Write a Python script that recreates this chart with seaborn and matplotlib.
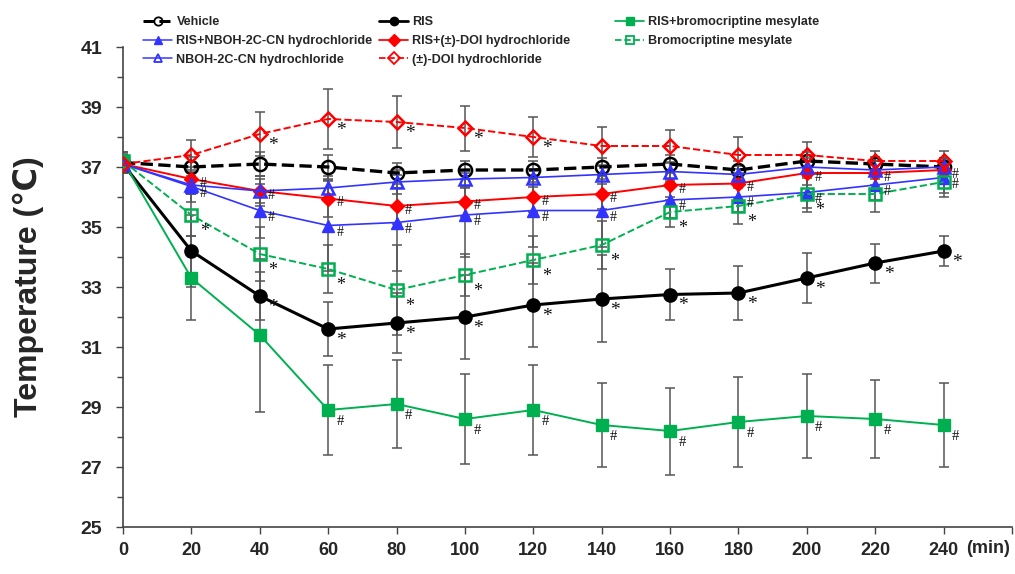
import matplotlib
matplotlib.use("Agg")
import matplotlib.pyplot as plt
from matplotlib.lines import Line2D
import seaborn as sns
import numpy as np
import pandas as pd

sns.set_style("ticks")
plt.rcParams['font.family'] = ['Liberation Sans', 'DejaVu Sans']

# ---------------- data ----------------
time_min = [0, 20, 40, 60, 80, 100, 120, 140, 160, 180, 200, 220, 240]

vehicle      = [37.15, 37.0, 37.1, 37.0, 36.8, 36.9, 36.9, 37.0, 37.1, 36.9, 37.2, 37.1, 37.0]
ris          = [37.1, 34.2, 32.7, 31.6, 31.8, 32.0, 32.4, 32.6, 32.75, 32.8, 33.3, 33.8, 34.2]
ris_bromo    = [37.2, 33.3, 31.4, 28.9, 29.1, 28.6, 28.9, 28.4, 28.2, 28.5, 28.7, 28.6, 28.4]
ris_nboh     = [37.1, 36.35, 35.55, 35.05, 35.15, 35.4, 35.55, 35.55, 35.9, 36.0, 36.15, 36.4, 36.65]
ris_doi      = [37.1, 36.6, 36.2, 35.95, 35.7, 35.85, 36.0, 36.1, 36.4, 36.45, 36.8, 36.8, 36.9]
bromo        = [37.2, 35.4, 34.1, 33.6, 32.9, 33.4, 33.9, 34.4, 35.5, 35.7, 36.1, 36.1, 36.5]
nboh         = [37.1, 36.4, 36.2, 36.3, 36.5, 36.6, 36.65, 36.75, 36.85, 36.75, 37.0, 36.9, 37.0]
doi          = [37.1, 37.4, 38.1, 38.6, 38.5, 38.3, 38.0, 37.7, 37.7, 37.4, 37.4, 37.2, 37.2]

vehicle_err   = [0.3, 0.35, 0.4, 0.4, 0.35, 0.3, 0.3, 0.3, 0.3, 0.3, 0.3, 0.25, 0.25]
ris_err       = [0.3, 1.2, 0.8, 0.9, 1.0, 1.4, 1.4, 1.45, 0.85, 0.9, 0.83, 0.65, 0.5]
ris_bromo_err = [0.3, 1.4, 2.55, 1.5, 1.47, 1.5, 1.5, 1.4, 1.45, 1.5, 1.4, 1.3, 1.4]
ris_nboh_err  = [0.3, 0.5, 0.9, 1.5, 1.6, 1.4, 1.2, 1.2, 0.6, 0.5, 0.5, 0.5, 0.5]
ris_doi_err   = [0.3, 0.4, 0.5, 0.6, 0.6, 0.5, 0.5, 0.5, 0.5, 0.5, 0.4, 0.4, 0.4]
bromo_err     = [0.3, 0.7, 0.9, 0.8, 1.5, 0.7, 0.8, 0.8, 0.5, 0.6, 0.6, 0.6, 0.5]
nboh_err      = [0.3, 0.3, 0.4, 0.4, 0.4, 0.3, 0.3, 0.3, 0.3, 0.3, 0.3, 0.3, 0.3]
doi_err       = [0.3, 0.5, 0.73, 1.0, 0.87, 0.75, 0.67, 0.63, 0.55, 0.6, 0.42, 0.32, 0.34]

# significance marks: time points with "*" or "#"
ris_star       = [40, 60, 80, 100, 120, 140, 160, 180, 200, 220, 240]
ris_bromo_hash = [60, 80, 100, 120, 140, 160, 180, 200, 220, 240]
ris_nboh_hash  = [20, 40, 60, 80, 100, 120, 140, 160, 180, 200, 220, 240]
ris_doi_hash   = [20, 40, 60, 80, 100, 120, 140, 160, 180, 200, 220, 240]
bromo_star     = [20, 40, 60, 80, 100, 120, 140, 160, 180, 200]
doi_star       = [40, 60, 80, 100, 120]

x_ticks = [0, 20, 40, 60, 80, 100, 120, 140, 160, 180, 200, 220, 240, 260]
x_ticklabels = ['0', '20', '40', '60', '80', '100', '120', '140', '160', '180', '200', '220', '240', '']
y_ticks = [25, 27, 29, 31, 33, 35, 37, 39, 41]

GREEN = '#00B050'
BLUE = '#3333FF'
RED = '#FF0000'
BLACK = '#000000'

series = [
    # label, values, err, color, marker, linestyle, filled, lw
    ('Vehicle', vehicle, vehicle_err, BLACK, 'o', '--', False, 2.4),
    ('RIS', ris, ris_err, BLACK, 'o', '-', True, 2.2),
    ('RIS+bromocriptine mesylate', ris_bromo, ris_bromo_err, GREEN, 's', '-', True, 1.4),
    ('RIS+NBOH-2C-CN hydrochloride', ris_nboh, ris_nboh_err, BLUE, '^', '-', True, 1.2),
    ('RIS+(±)-DOI hydrochloride', ris_doi, ris_doi_err, RED, 'D', '-', True, 1.4),
    ('Bromocriptine mesylate', bromo, bromo_err, GREEN, 's', '--', False, 1.4),
    ('NBOH-2C-CN hydrochloride', nboh, nboh_err, BLUE, '^', '-', False, 1.2),
    ('(±)-DOI hydrochloride', doi, doi_err, RED, 'D', '--', False, 1.4),
]

fig = plt.figure(figsize=(10.15, 5.74), dpi=100)
ax = fig.add_axes([123/1015, 1 - 527/574, 889/1015, 480/574])

# error bars (behind)
for label, vals, err, color, marker, ls, filled, lw in series:
    ax.errorbar(time_min, vals, yerr=err, fmt='none', ecolor='#555555',
                elinewidth=1.1, capsize=3.5, capthick=1.1, zorder=1)

handles = {}
for i, (label, vals, err, color, marker, ls, filled, lw) in enumerate(series):
    df = pd.DataFrame({'time': time_min, 'temp': vals})
    ms = 8.5 if marker != 'D' else 7.5
    if marker == 'o':
        ms = 9.5
    sns.lineplot(data=df, x='time', y='temp', ax=ax, color=color, linestyle=ls,
                 linewidth=lw, marker=marker, markersize=ms,
                 markerfacecolor=(color if filled else 'none'),
                 markeredgecolor=color, markeredgewidth=(1.0 if filled else 1.8),
                 errorbar=None, zorder=3 + i, legend=False)
    handles[label] = Line2D([], [], color=color, linestyle=ls, linewidth=lw * 0.9,
                            marker=marker, markersize=6,
                            markerfacecolor=(color if filled else 'none'),
                            markeredgecolor=color, markeredgewidth=(1.0 if filled else 1.3))

def annotate(times, vals, sym, dy=-8, size=None):
    for t in times:
        v = vals[time_min.index(t)]
        fs = size if size else (14 if sym == '*' else 10.5)
        ax.annotate(sym, (t, v), xytext=(6, dy), textcoords='offset points',
                    ha='left', va='center', fontsize=fs,
                    family='Liberation Serif', color='#111111', zorder=20)

annotate(ris_star, ris, '*')
annotate(ris_bromo_hash, ris_bromo, '#')
annotate(ris_nboh_hash, ris_nboh, '#', dy=-5, size=10)
annotate(ris_doi_hash, ris_doi, '#', dy=-3, size=10)
annotate(bromo_star, bromo, '*', dy=-12, size=13)
annotate(doi_star, doi, '*')

ax.set_xlim(0, 260)
ax.set_ylim(25, 41)
ax.set_xticks(x_ticks)
ax.set_xticklabels(x_ticklabels, fontsize=13, fontweight='bold')
ax.set_yticks(y_ticks)
ax.set_yticklabels([str(v) for v in y_ticks], fontsize=14, fontweight='bold')
ax.set_yticks(np.arange(25, 42, 1), minor=True)
ax.tick_params(axis='both', which='major', direction='out', length=5, width=1, color='#444444', pad=6)
ax.tick_params(axis='y', which='minor', direction='out', length=4, width=1, color='#444444')
ax.tick_params(axis='y', which='major', pad=10)
for s in ['top', 'right']:
    ax.spines[s].set_visible(False)
for s in ['left', 'bottom']:
    ax.spines[s].set_color('#444444')
    ax.spines[s].set_linewidth(1.2)

ax.set_xlabel('')
ax.set_ylabel('Temperature (℃)', fontsize=23, fontweight='bold',
              family=['Liberation Sans', 'DejaVu Sans'])
ax.yaxis.set_label_coords(-0.089, 0.5)
ax.text(253, -0.044, '(min)', transform=ax.get_xaxis_transform(), ha='center', va='center',
        fontsize=13, fontweight='bold')

# legends: three columns
cols = [
    (['Vehicle', 'RIS+NBOH-2C-CN hydrochloride', 'NBOH-2C-CN hydrochloride'], 143),
    (['RIS', 'RIS+(±)-DOI hydrochloride', '(±)-DOI hydrochloride'], 379),
    (['RIS+bromocriptine mesylate', 'Bromocriptine mesylate'], 615),
]
for labels, xpx in cols:
    fig.legend([handles[l] for l in labels], labels, loc='upper left',
               bbox_to_anchor=(xpx / 1015, 1 - 16 / 574), frameon=False,
               prop={'weight': 'bold', 'size': 9.1}, handlelength=2.3,
               handletextpad=0.35, labelspacing=0.55, borderaxespad=0, borderpad=0)

fig.savefig('out.png', dpi=100)
